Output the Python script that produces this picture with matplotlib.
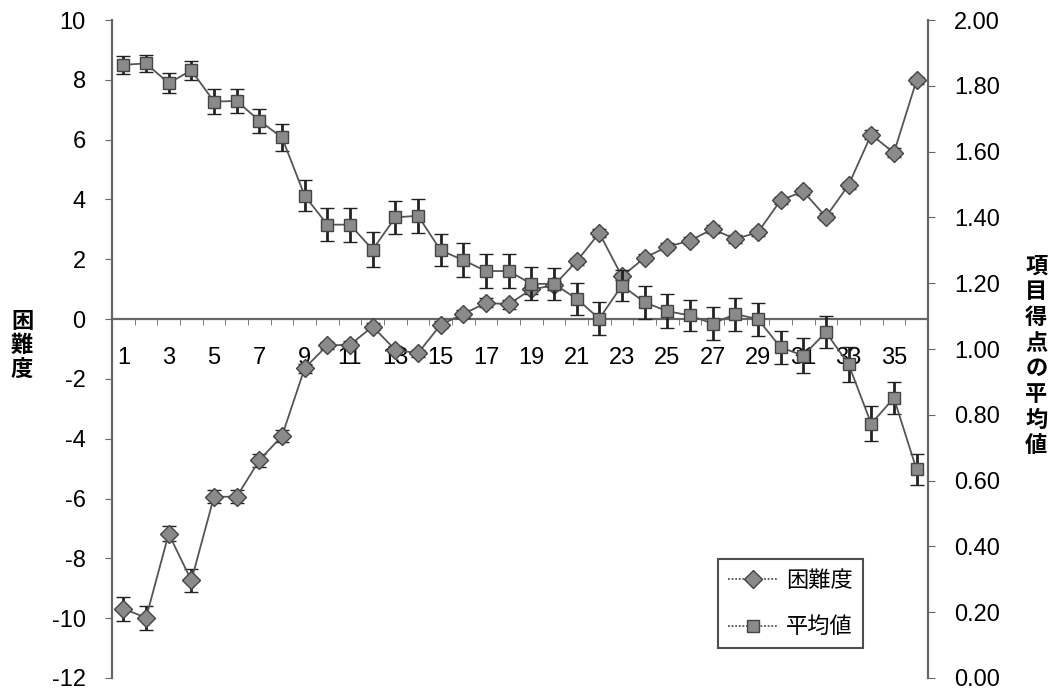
import matplotlib
matplotlib.use("Agg")
import matplotlib.pyplot as plt
from matplotlib.lines import Line2D
import numpy as np

plt.rcParams['font.family'] = ['Liberation Sans', 'Noto Sans CJK JP', 'DejaVu Sans']

items = list(range(1, 37))
difficulty = [-9.68, -9.99, -7.18, -8.74, -5.94, -5.94, -4.72, -3.91, -1.64, -0.88,
              -0.86, -0.25, -1.03, -1.14, -0.19, 0.17, 0.54, 0.50, 0.99, 1.13,
              1.93, 2.88, 1.43, 2.05, 2.42, 2.62, 3.01, 2.68, 2.90, 3.97,
              4.27, 3.42, 4.48, 6.17, 5.56, 7.98]
difficulty_err = [0.40, 0.40, 0.25, 0.40, 0.22, 0.22, 0.22, 0.20, 0.15, 0.12,
                  0.12, 0.12, 0.12, 0.12, 0.12, 0.12, 0.15, 0.15, 0.15, 0.15,
                  0.12, 0.12, 0.12, 0.12, 0.12, 0.12, 0.12, 0.12, 0.12, 0.12,
                  0.12, 0.12, 0.12, 0.15, 0.15, 0.12]
mean_score = [1.864, 1.868, 1.808, 1.847, 1.752, 1.754, 1.694, 1.643, 1.466, 1.378,
              1.378, 1.302, 1.400, 1.405, 1.300, 1.270, 1.237, 1.237, 1.198, 1.198,
              1.153, 1.092, 1.193, 1.142, 1.115, 1.102, 1.077, 1.106, 1.091, 1.005,
              0.980, 1.051, 0.954, 0.773, 0.851, 0.634]
mean_err = [0.028, 0.025, 0.030, 0.029, 0.037, 0.037, 0.037, 0.040, 0.048, 0.051,
            0.052, 0.053, 0.051, 0.052, 0.049, 0.052, 0.052, 0.052, 0.050, 0.048,
            0.049, 0.050, 0.047, 0.051, 0.051, 0.048, 0.050, 0.050, 0.050, 0.050,
            0.052, 0.048, 0.053, 0.053, 0.050, 0.047]
xtick_labels = [str(i) for i in range(1, 37, 2)]
left_ticks = list(range(-12, 11, 2))
right_ticks = [0.0, 0.2, 0.4, 0.6, 0.8, 1.0, 1.2, 1.4, 1.6, 1.8, 2.0]

fig = plt.figure(figsize=(10.52, 6.98), dpi=100)
ax = fig.add_axes([0.1065, 0.0287, 0.7755, 0.9426])
ax2 = ax.twinx()

line_col = '#555555'
mk_face = '#8a8a8a'
mk_edge = '#444444'

ax.errorbar(items, difficulty, yerr=difficulty_err, fmt='-', marker='D',
            color=line_col, lw=1.3, markersize=9, markerfacecolor=mk_face,
            markeredgecolor=mk_edge, markeredgewidth=1.0,
            ecolor='#222222', elinewidth=2, capsize=5, capthick=2, zorder=3)
ax2.errorbar(items, mean_score, yerr=mean_err, fmt='-', marker='s',
             color=line_col, lw=1.3, markersize=9, markerfacecolor=mk_face,
             markeredgecolor=mk_edge, markeredgewidth=1.0,
             ecolor='#222222', elinewidth=2, capsize=5, capthick=2, zorder=3)

ax.set_xlim(0.5, 36.5)
ax.set_ylim(-12, 10)
ax2.set_ylim(0, 2)

for a in (ax, ax2):
    a.spines['top'].set_visible(False)
    a.set_facecolor('none')
ax2.spines['bottom'].set_visible(False)
ax2.spines['left'].set_visible(False)
ax.spines['right'].set_visible(False)
for sp in (ax.spines['left'], ax2.spines['right'], ax.spines['bottom']):
    sp.set_linestyle((0, (1, 1)))
    sp.set_color('#666666')
    sp.set_linewidth(1.6)
ax.spines['bottom'].set_position(('data', 0))

ax.set_yticks(left_ticks)
ax.set_yticklabels([str(t) for t in left_ticks])
ax2.set_yticks(right_ticks)
ax2.set_yticklabels([f"{t:.2f}" for t in right_ticks])
ax.tick_params(axis='y', direction='out', length=5, color='#666666', labelsize=17, pad=14)
ax2.tick_params(axis='y', direction='out', length=5, color='#666666', labelsize=17, pad=14)

ax.set_xticks(list(range(1, 37, 2)))
ax.set_xticklabels(xtick_labels)
ax.set_xticks(np.arange(0.5, 37, 1.0), minor=True)
ax.tick_params(axis='x', which='major', length=0, labelsize=17, pad=20)
ax.tick_params(axis='x', which='minor', direction='out', length=4, color='#666666')

fig.text(0.021, 0.505, "困\n難\n度", ha='center', va='center', fontsize=16,
         fontweight='bold', linespacing=1.05,
         family=['Noto Sans CJK JP', 'DejaVu Sans'])
fig.text(0.985, 0.49, "\n".join("項目得点の平均値"), ha='center', va='center',
         fontsize=16, fontweight='bold', linespacing=1.15,
         family=['Noto Sans CJK JP', 'DejaVu Sans'])

handles = [
    Line2D([], [], color=line_col, lw=1.3, linestyle=(0, (1, 1)), marker='D', markersize=9,
           markerfacecolor=mk_face, markeredgecolor=mk_edge),
    Line2D([], [], color=line_col, lw=1.3, linestyle=(0, (1, 1)), marker='s', markersize=8,
           markerfacecolor=mk_face, markeredgecolor=mk_edge),
]
leg = ax2.legend(handles, ["困難度", "平均値"], loc='lower right',
                 bbox_to_anchor=(0.920, 0.045), borderaxespad=0.0, frameon=True,
                 fancybox=False, edgecolor='#222222', handlelength=2.2,
                 handletextpad=0.4, borderpad=0.45, labelspacing=1.05,
                 prop={'family': ['Noto Sans CJK JP', 'DejaVu Sans'], 'size': 16})
leg.get_frame().set_linewidth(1.5)

fig.savefig("out.png", dpi=100)
